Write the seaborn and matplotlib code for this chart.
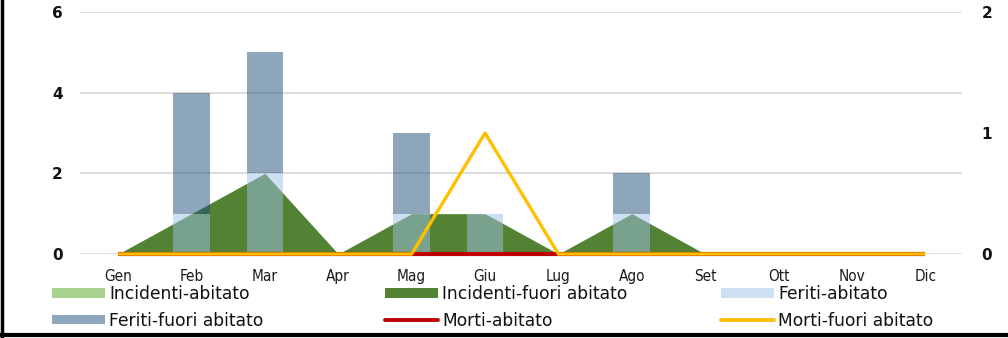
import numpy as np
import pandas as pd
import matplotlib
matplotlib.use("Agg")
import matplotlib.pyplot as plt
import seaborn as sns
from matplotlib.patches import Patch
from matplotlib.lines import Line2D

months = ["Gen", "Feb", "Mar", "Apr", "Mag", "Giu", "Lug", "Ago", "Set", "Ott", "Nov", "Dic"]
incidenti_abitato = [0, 0, 0, 0, 0, 0, 0, 0, 0, 0, 0, 0]
incidenti_fuori = [0, 1, 2, 0, 1, 1, 0, 1, 0, 0, 0, 0]
feriti_abitato = [0, 1, 2, 0, 1, 1, 0, 1, 0, 0, 0, 0]
feriti_fuori = [0, 3, 3, 0, 2, 0, 0, 1, 0, 0, 0, 0]
morti_abitato = [0, 0, 0, 0, 0, 0, 0, 0, 0, 0, 0, 0]
morti_fuori = [0, 0, 0, 0, 0, 1, 0, 0, 0, 0, 0, 0]

sns.set_theme(style="white")
plt.rcParams["font.family"] = ["DejaVu Sans"]
FONT = dict(family="DejaVu Sans", stretch="condensed")

C_IA = "#A9D18E"
C_IF = "#548235"
C_FA = "#9DC3E6"
C_FF = "#1F4E79"
C_MA = "#C00000"
C_MF = "#FFC000"

fig = plt.figure(figsize=(10.08, 3.38), dpi=100)
ax = fig.add_axes([80 / 1008, 1 - 254 / 338, (962 - 80) / 1008, (254 - 12) / 338])
x = np.arange(len(months))

ax.fill_between(x, incidenti_fuori, color=C_IF, lw=0, zorder=1)
ax.fill_between(x, incidenti_abitato, color=C_IA, lw=0, zorder=1.1)

ax.bar(x, feriti_abitato, width=0.5, color=C_FA, alpha=0.5, lw=0, zorder=2)
ax.bar(x, feriti_fuori, width=0.5, bottom=feriti_abitato, color=C_FF, alpha=0.5, lw=0, zorder=2)

ax.set_xlim(-0.52, 11.5)
ax.set_ylim(0, 6)
ax.set_yticks([0, 2, 4, 6])
ax.yaxis.grid(True, color="#D9D9D9", lw=1.3, zorder=0)
ax.set_axisbelow(True)
for s in ax.spines.values():
    s.set_visible(False)
ax.tick_params(axis="both", length=0)
ax.tick_params(axis="y", pad=12.5)
ax.tick_params(axis="x", pad=11)
ax.set_xticks(x)
ax.set_xticklabels(months, fontsize=11, color="#1a1a1a", **FONT)
for t in ax.get_yticklabels():
    t.set_fontweight("bold")
    t.set_fontsize(11)
    t.set_color("#111111")

ax2 = ax.twinx()
df = pd.DataFrame({"x": x, "ma": morti_abitato, "mf": morti_fuori})
sns.lineplot(data=df, x="x", y="ma", ax=ax2, color=C_MA, lw=3.0, solid_capstyle="butt", clip_on=False)
sns.lineplot(data=df, x="x", y="mf", ax=ax2, color=C_MF, lw=2.4, solid_capstyle="butt", clip_on=False)
ax2.set_ylim(0, 2)
ax2.set_yticks([0, 1, 2])
ax2.set_xlim(-0.52, 11.5)
ax2.set_ylabel("")
ax2.set_xlabel("")
for s in ax2.spines.values():
    s.set_visible(False)
ax2.tick_params(axis="y", length=0, pad=14)
for t in ax2.get_yticklabels():
    t.set_fontweight("bold")
    t.set_fontsize(11)
    t.set_color("#111111")
ax.set_xlabel("")
ax.set_ylabel("")

cols = [
    [(Patch(color=C_IA, lw=0), "Incidenti-abitato"), (Patch(color=C_FF, alpha=0.5, lw=0), "Feriti-fuori abitato")],
    [(Patch(color=C_IF, lw=0), "Incidenti-fuori abitato"), (Line2D([], [], color=C_MA, lw=2.8), "Morti-abitato")],
    [(Patch(color=C_FA, alpha=0.5, lw=0), "Feriti-abitato"), (Line2D([], [], color=C_MF, lw=2.8), "Morti-fuori abitato")],
]
xs = [52, 385, 721]
fs = 12.3
for cx, entries in zip(xs, cols):
    leg = fig.legend([e[0] for e in entries], [e[1] for e in entries],
                     loc="upper left", bbox_to_anchor=(cx / 1008, 1 - 285 / 338),
                     frameon=False, handlelength=53 / (fs * 100 / 72), handleheight=0.48,
                     handletextpad=0.25, labelspacing=0.5, borderpad=0, borderaxespad=0,
                     prop=dict(size=fs, family="DejaVu Sans"))
    for t in leg.get_texts():
        t.set_color("#111111")

fig.add_artist(Line2D([2 / 1008, 2 / 1008], [0, 1], color="black", lw=2.5, transform=fig.transFigure))
fig.add_artist(Line2D([0, 1], [3 / 338, 3 / 338], color="black", lw=3, transform=fig.transFigure))

fig.savefig("out.png", dpi=100)
